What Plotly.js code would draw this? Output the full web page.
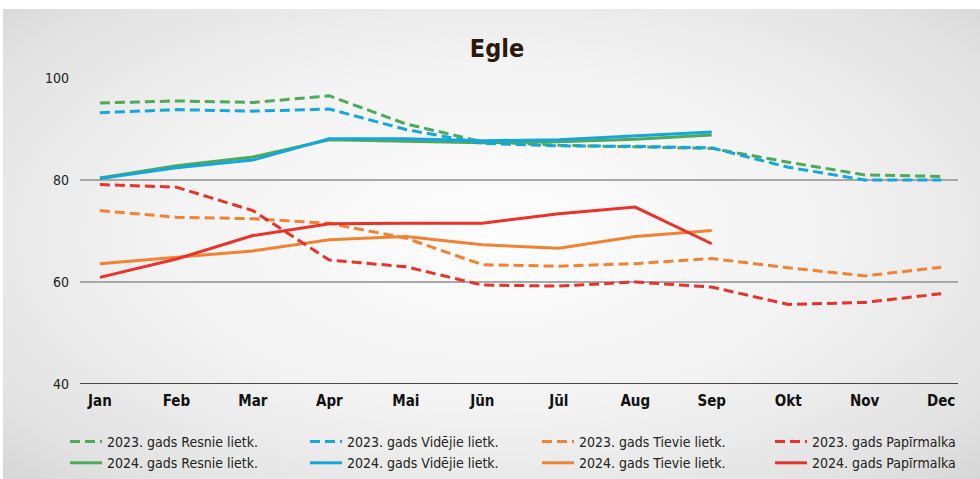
<!DOCTYPE html>
<html>
<head>
<meta charset="utf-8">
<script src="https://cdn.plot.ly/plotly-3.0.1.min.js"></script>
<style>
html,body{margin:0;padding:0;background:#fff;width:980px;height:479px;overflow:hidden;}
#bg{position:absolute;left:3px;top:9px;width:977px;height:470px;
background:radial-gradient(ellipse 75% 80% at 50% 48%, #fdfdfd 0%, #f3f3f3 45%, #e2e2e2 80%, #d0d0d0 100%);}
#chart{position:absolute;left:0;top:0;width:980px;height:479px;}
</style>
</head>
<body>
<div id="bg"></div>
<div id="chart"></div>
<script>
const months = ["Jan","Feb","Mar","Apr","Mai","Jūn","Jūl","Aug","Sep","Okt","Nov","Dec"];
const months2024 = months.slice(0, 9);

const resnie2023     = [95.1, 95.5, 95.2, 96.5, 91.0, 87.5, 86.8, 86.5, 86.2, 83.5, 81.0, 80.7];
const videjie2023    = [93.2, 93.8, 93.5, 93.9, 89.9, 87.2, 86.7, 86.6, 86.3, 82.5, 80.0, 80.0];
const tievie2023     = [74.0, 72.7, 72.4, 71.5, 68.6, 63.4, 63.1, 63.6, 64.6, 62.8, 61.2, 62.9];
const papirmalka2023 = [79.1, 78.6, 74.0, 64.3, 63.0, 59.4, 59.2, 60.0, 59.0, 55.6, 56.0, 57.7];

const resnie2024     = [80.4, 82.8, 84.5, 87.9, 87.6, 87.3, 87.5, 88.0, 88.8];
const videjie2024    = [80.3, 82.4, 83.9, 88.1, 88.1, 87.7, 87.9, 88.6, 89.4];
const tievie2024     = [63.6, 64.8, 66.1, 68.3, 68.9, 67.3, 66.6, 68.9, 70.1];
const papirmalka2024 = [60.9, 64.5, 69.1, 71.4, 71.5, 71.5, 73.4, 74.7, 67.5];

const yTicks = [40, 60, 80, 100];

const GREEN = "#4caa5a", BLUE = "#14a6dc", ORANGE = "#f28233", RED = "#e8322a";
const DASH = "10px,5px";

function tr(name, x, y, color, dashed, leg) {
  return {
    type: "scatter", mode: "lines", name: name, x: x, y: y,
    legend: leg,
    line: {color: color, width: 3, dash: dashed ? DASH : "solid"},
    hoverinfo: "skip"
  };
}

const data = [
  tr("2023. gads Resnie lietk.", months, resnie2023, GREEN, true, "legend"),
  tr("2024. gads Resnie lietk.", months2024, resnie2024, GREEN, false, "legend"),
  tr("2023. gads Vidējie lietk.", months, videjie2023, BLUE, true, "legend2"),
  tr("2024. gads Vidējie lietk.", months2024, videjie2024, BLUE, false, "legend2"),
  tr("2023. gads Tievie lietk.", months, tievie2023, ORANGE, true, "legend3"),
  tr("2024. gads Tievie lietk.", months2024, tievie2024, ORANGE, false, "legend3"),
  tr("2023. gads Papīrmalka", months, papirmalka2023, RED, true, "legend4"),
  tr("2024. gads Papīrmalka", months2024, papirmalka2024, RED, false, "legend4")
];

const FONT = "'DejaVu Sans Condensed', 'Liberation Sans Narrow', 'Roboto', sans-serif";

function leg(xpx) {
  return {
    orientation: "v",
    xref: "container", yref: "container",
    x: xpx/980, xanchor: "left",
    y: 1 - 426/479, yanchor: "top",
    itemwidth: 32,
    traceorder: "normal",
    bgcolor: "rgba(0,0,0,0)",
    font: {family: FONT, size: 14, color: "#222"}
  };
}

const layout = {
  width: 980, height: 479,
  paper_bgcolor: "rgba(0,0,0,0)",
  plot_bgcolor: "rgba(0,0,0,0)",
  margin: {l: 80, r: 22, t: 78, b: 95, autoexpand: false},
  showlegend: true,
  title: {
    text: "<b>Egle</b>",
    x: 497/980, xref: "container", xanchor: "center",
    y: 1 - 48/479, yref: "container", yanchor: "middle",
    font: {family: FONT, size: 25, color: "#2a1a0c"}
  },
  font: {family: FONT, color: "#222"},
  xaxis: {
    type: "category",
    categoryorder: "array", categoryarray: months,
    range: [-0.26, 11.22],
    showgrid: false, zeroline: false,
    showline: false,
    ticks: "",
    tickangle: 0,
    automargin: false,
    tickfont: {family: FONT, size: 15, color: "#111", weight: "bold"},
    ticklabelstandoff: 6,
    fixedrange: true
  },
  yaxis: {
    range: [40, 100],
    tickvals: yTicks,
    ticktext: yTicks.map(String),
    automargin: false,
    showgrid: true, gridcolor: "#a8a8a8", gridwidth: 1.3,
    zeroline: false, showline: false, ticks: "",
    tickfont: {family: FONT, size: 14, color: "#222"},
    ticklabelstandoff: 10,
    fixedrange: true
  },
  shapes: [{
    type: "line", xref: "paper", yref: "y", x0: 0, x1: 1, y0: 40, y1: 40,
    line: {color: "#111", width: 1.5}
  }],
  legend: leg(65),
  legend2: leg(305),
  legend3: leg(537),
  legend4: leg(770)
};

Plotly.newPlot("chart", data, layout, {displayModeBar: false, staticPlot: true});
</script>
</body>
</html>
